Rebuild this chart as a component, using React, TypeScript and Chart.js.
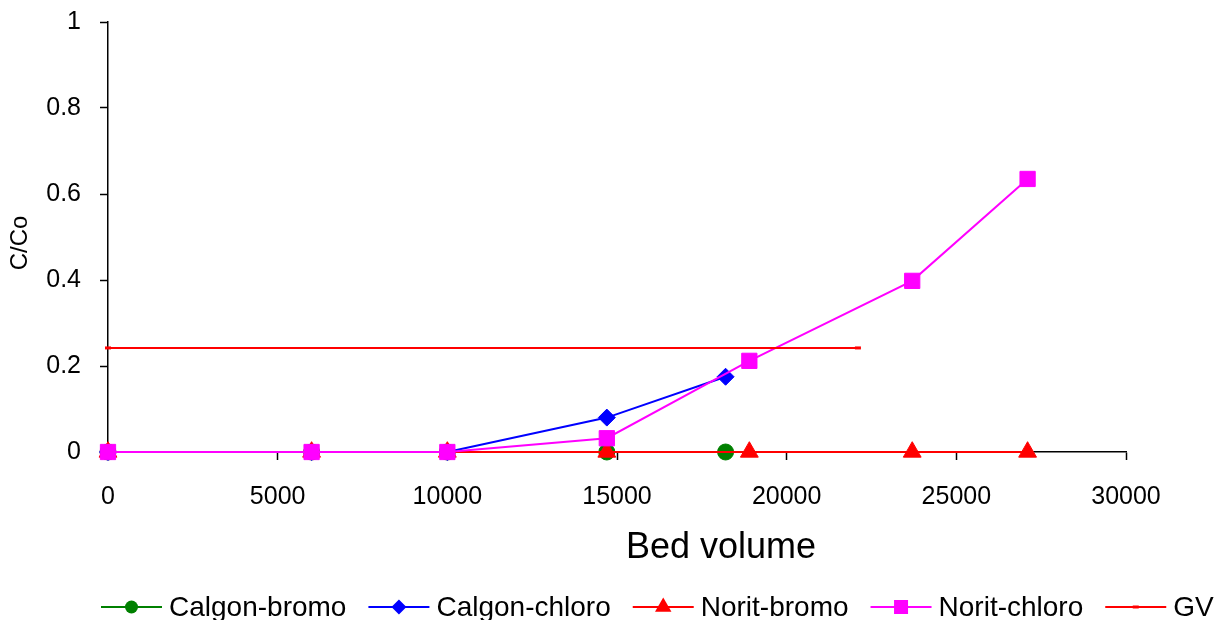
import React, { useEffect, useRef } from 'react';
import { Chart, registerables } from 'chart.js';

Chart.register(...registerables);

// ---- data ----
const xCalgon = [0, 6000, 10000, 14700, 18200];
const calgonBromo = [0, 0, 0, 0, 0];
const calgonChloro = [0, 0, 0, 0.08, 0.175];
const xNorit = [0, 6000, 10000, 14700, 18900, 23700, 27100];
const noritBromo = [0, 0, 0, 0, 0, 0, 0];
const noritChloro = [0, 0, 0, 0.032, 0.212, 0.398, 0.635];
const xGV = [0, 22100];
const gvValues = [0.242, 0.242];
const seriesNames = ['Calgon-bromo', 'Calgon-chloro', 'Norit-bromo', 'Norit-chloro', 'GV'];
const xTitle = 'Bed volume';
const yTitle = 'C/Co';
const xMin = 0, xMax = 30000, xStep = 5000;
const yMin = 0, yMax = 1, yStep = 0.2;

const FONT = '"Liberation Sans", Arial, Helvetica, sans-serif';

const colors = ['#008000', '#0000FF', '#FF0000', '#FF00FF', '#FF0000'];
const markers = ['circle', 'rectRot', 'triangle', 'rect', 'line'];

const toXY = (xs: number[], ys: number[]) => xs.map((x, i) => ({ x, y: ys[i] }));

function drawMarker(ctx: CanvasRenderingContext2D, kind: string, cx: number, cy: number, color: string) {
  ctx.save();
  ctx.fillStyle = color;
  ctx.strokeStyle = color;
  ctx.beginPath();
  if (kind === 'circle') {
    ctx.arc(cx, cy, 6.5, 0, Math.PI * 2);
    ctx.fill();
  } else if (kind === 'rectRot') {
    const r = 7.5;
    ctx.moveTo(cx, cy - r);
    ctx.lineTo(cx + r, cy);
    ctx.lineTo(cx, cy + r);
    ctx.lineTo(cx - r, cy);
    ctx.closePath();
    ctx.fill();
  } else if (kind === 'triangle') {
    const r = 9.5;
    ctx.moveTo(cx, cy - r);
    ctx.lineTo(cx + r * Math.sin((2 * Math.PI) / 3), cy + r / 2);
    ctx.lineTo(cx - r * Math.sin((2 * Math.PI) / 3), cy + r / 2);
    ctx.closePath();
    ctx.fill();
  } else if (kind === 'rect') {
    const h = 7;
    ctx.rect(cx - h, cy - h, 2 * h, 2 * h);
    ctx.fill();
  } else if (kind === 'line') {
    ctx.lineWidth = 3;
    ctx.moveTo(cx - 3, cy);
    ctx.lineTo(cx + 3, cy);
    ctx.stroke();
  }
  ctx.restore();
}

const overlayPlugin = {
  id: 'overlayTexts',
  afterDraw(chart: any) {
    const ctx: CanvasRenderingContext2D = chart.ctx;
    ctx.save();
    // x title
    ctx.fillStyle = '#000';
    ctx.font = `36px ${FONT}`;
    ctx.textAlign = 'center';
    ctx.textBaseline = 'alphabetic';
    ctx.fillText(xTitle, 721, 558);
    // y title
    ctx.save();
    ctx.translate(27, 243);
    ctx.rotate(-Math.PI / 2);
    ctx.font = `24px ${FONT}`;
    ctx.textAlign = 'center';
    ctx.textBaseline = 'alphabetic';
    ctx.fillText(yTitle, 0, 0);
    ctx.restore();
    // legend
    ctx.font = `28px ${FONT}`;
    ctx.textAlign = 'left';
    ctx.textBaseline = 'alphabetic';
    let x = 101;
    const ly = 607;
    const lineLen = 61;
    seriesNames.forEach((name, i) => {
      ctx.save();
      ctx.strokeStyle = colors[i];
      ctx.lineWidth = 2;
      ctx.beginPath();
      ctx.moveTo(x, ly);
      ctx.lineTo(x + lineLen, ly);
      ctx.stroke();
      ctx.restore();
      drawMarker(ctx, markers[i], x + lineLen / 2, ly, colors[i]);
      ctx.fillStyle = '#000';
      ctx.fillText(name, x + lineLen + 7, 616);
      x += lineLen + 7 + ctx.measureText(name).width + 22;
    });
    ctx.restore();
  },
};

export default function App() {
  const canvasRef = useRef<HTMLCanvasElement | null>(null);

  useEffect(() => {
    document.body.style.margin = '0';
    const canvas = canvasRef.current;
    if (!canvas) return;

    const mk = (i: number, data: any[], radius: number, lw: number, extra: any = {}) => ({
      label: seriesNames[i],
      data,
      borderColor: colors[i],
      backgroundColor: colors[i],
      pointBackgroundColor: colors[i],
      pointBorderColor: colors[i],
      pointStyle: markers[i],
      pointRadius: radius,
      pointHoverRadius: radius,
      pointBorderWidth: 1,
      borderWidth: lw,
      showLine: true,
      fill: false,
      tension: 0,
      clip: false,
      order: 4 - i,
      ...extra,
    });

    const chart = new Chart(canvas, {
      type: 'scatter',
      data: {
        datasets: [
          mk(0, toXY(xCalgon, calgonBromo), 8, 2),
          mk(1, toXY(xCalgon, calgonChloro), 8.5, 2),
          mk(2, toXY(xNorit, noritBromo), 10.3, 2),
          mk(3, toXY(xNorit, noritChloro), 10.8, 2),
          mk(4, toXY(xGV, gvValues), 3, 2, { pointBorderWidth: 3 }),
        ],
      },
      options: {
        animation: false,
        responsive: true,
        maintainAspectRatio: false,
        layout: { padding: { left: 0, top: 22, right: 93, bottom: 108 } },
        plugins: {
          legend: { display: false },
          tooltip: { enabled: false },
          title: { display: false },
        },
        scales: {
          x: {
            type: 'linear',
            min: xMin,
            max: xMax,
            afterFit: (s: any) => {
              s.height = 60;
              s.paddingLeft = 0;
              s.paddingRight = 0;
            },
            ticks: {
              stepSize: xStep,
              color: '#000',
              padding: 22,
              font: { family: FONT, size: 25 },
              maxRotation: 0,
              callback: (v: any) => String(v),
            },
            grid: { drawOnChartArea: false, drawTicks: true, tickLength: 8, color: '#000', tickWidth: 1.5 },
            border: { display: true, color: '#000', width: 1.5 },
          },
          y: {
            type: 'linear',
            min: yMin,
            max: yMax,
            afterFit: (s: any) => {
              s.width = 108;
              s.paddingTop = 0;
              s.paddingBottom = 0;
            },
            ticks: {
              stepSize: yStep,
              color: '#000',
              padding: 19,
              font: { family: FONT, size: 25 },
              callback: (v: any) => String(Math.round(Number(v) * 10) / 10),
            },
            grid: { drawOnChartArea: false, drawTicks: true, tickLength: 8, color: '#000', tickWidth: 1.5 },
            border: { display: true, color: '#000', width: 1.5 },
          },
        },
      },
      plugins: [overlayPlugin],
    } as any);

    return () => chart.destroy();
  }, []);

  return (
    <div style={{ position: 'relative', width: 1219, height: 620, background: '#fff' }}>
      <canvas ref={canvasRef} />
    </div>
  );
}
